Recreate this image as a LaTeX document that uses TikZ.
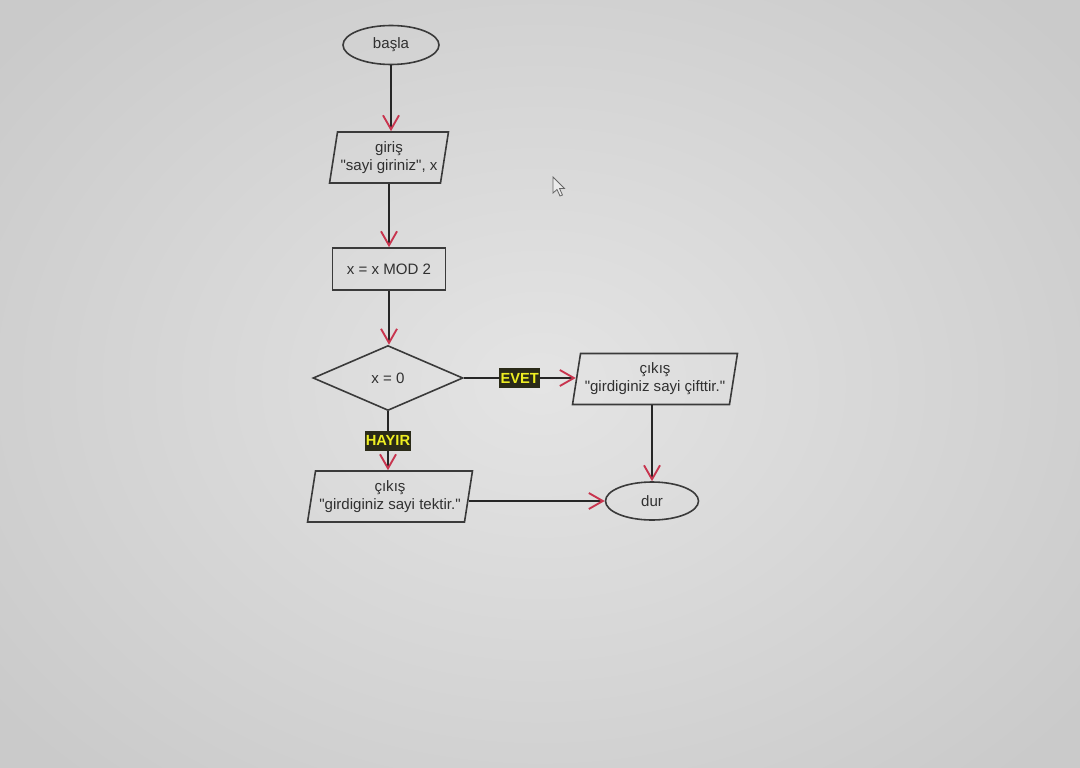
\documentclass[tikz,border=0pt]{standalone}
\usepackage{fontspec}
\setmainfont{Liberation Sans}[Ligatures=TeXOff]
\usetikzlibrary{shapes.geometric,arrows.meta}
\definecolor{bgin}{HTML}{E4E4E4}
\definecolor{bgout}{HTML}{CACACA}
\definecolor{edge}{HTML}{3A3A3A}
\definecolor{txt}{HTML}{303030}
\definecolor{tipc}{HTML}{C8344E}
\definecolor{lblbg}{HTML}{2A2A18}
\definecolor{lblfg}{HTML}{EEEE22}
\newcommand{\dq}{\symbol{34}}
\tikzset{
  base/.style={draw=edge, line width=1.2pt, text=txt, font=\fontsize{11.3}{13.5}\selectfont, align=center, inner sep=1pt},
  term/.style={base, ellipse, minimum width=96*0.75pt, minimum height=39*0.75pt},
  io/.style={base, trapezium, trapezium left angle=77.5, trapezium right angle=102.5, trapezium stretches=true, minimum height=51*0.75pt},
  proc/.style={base, rectangle, minimum width=113*0.75pt, minimum height=42*0.75pt},
  dec/.style={base, diamond, aspect=2.3, minimum width=150*0.75pt, minimum height=65*0.75pt, inner sep=0pt},
  flow/.style={draw=black!85, line width=1.6pt, -{Straight Barb[length=10.5pt, width=12pt, line width=1.4pt, color=tipc]}},
  lbl/.style={fill=lblbg, text=lblfg, font=\bfseries\fontsize{11}{12}\selectfont, inner xsep=1pt, inner ysep=2pt, minimum height=15pt}
}
\begin{document}
\begin{tikzpicture}[x=0.75pt,y=-0.75pt]
\useasboundingbox (0,0) rectangle (1080,767);
\shade[inner color=bgin, outer color=bgout] (-150,-150) rectangle (1230,917);
% cursor
\draw[draw=black!60, fill=white!92!black, line width=0.6pt]
  (553,177) -- (553,193) -- (557,189.5) -- (560,196) -- (562.5,195) -- (559.5,188.5) -- (564.5,188.5) -- cycle;
% nodes
\node[term] (start) at (391,45) {başla};
\node[io, minimum width=120*0.75pt] (in) at (389,157.5) {giriş\\\dq sayi giriniz\dq, x};
\node[proc] (calc) at (389,269) {x = x MOD 2};
\node[dec] (cond) at (388,378) {x = 0};
\node[io, minimum width=165*0.75pt] (even) at (655,379) {çıkış\\\dq girdiginiz sayi çifttir.\dq};
\node[io, minimum width=165*0.75pt] (odd) at (390,496.5) {çıkış\\\dq girdiginiz sayi tektir.\dq};
\node[term, minimum width=93*0.75pt, minimum height=38*0.75pt] (stop) at (652,501) {dur};
% connectors
\draw[flow] (start.south) -- (start.south |- in.north);
\draw[flow] (in.south) -- (in.south |- calc.north);
\draw[flow] (calc.south) -- (calc.south |- cond.north);
\draw[flow] (cond.east) -- node[lbl, pos=0.5] (yes) {EVET} (cond.east -| even.west);
\draw[flow] (even.south -| stop.north) -- (stop.north);
\draw[flow] (cond.south) -- node[lbl, pos=0.5] (no) {HAYIR} (cond.south |- odd.north);
\draw[flow] (odd.east |- stop.west) -- (stop.west);
\end{tikzpicture}
\end{document}
